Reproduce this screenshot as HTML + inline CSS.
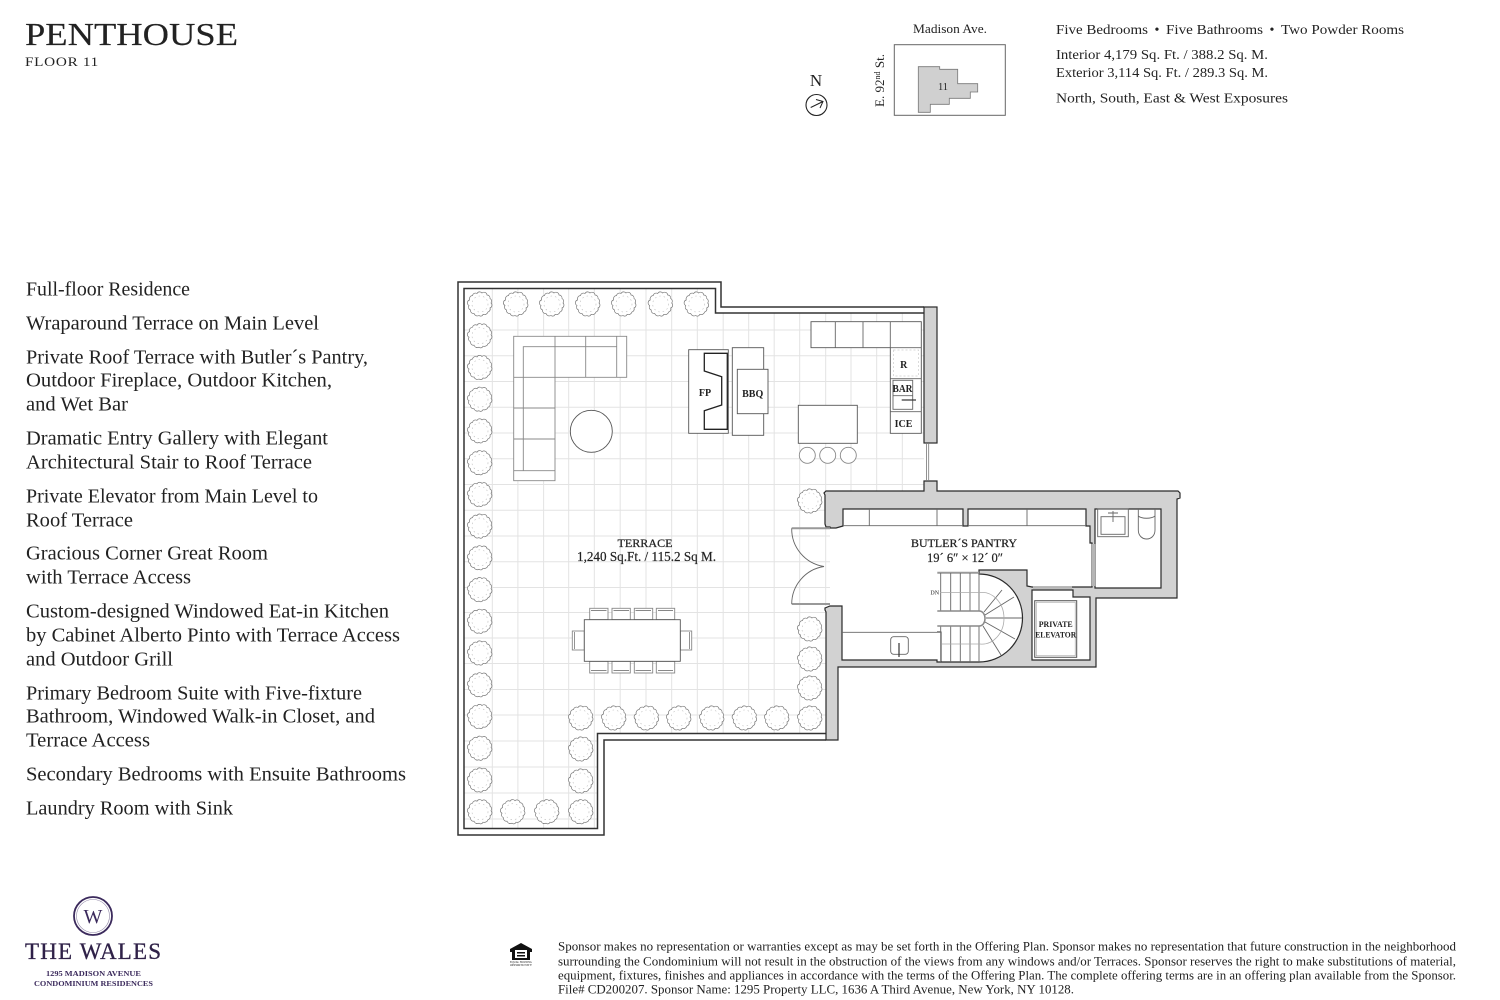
<!DOCTYPE html>
<html lang="en">
<head>
<meta charset="utf-8">
<title>Penthouse Floor 11</title>
<style>
html,body{margin:0;padding:0;background:#fff;width:1500px;height:1000px;overflow:hidden}
svg{display:block}
text{font-family:"Liberation Serif",serif;fill:#222}
.l{font-size:19.5px}
.g line{stroke:#e3e3e3;stroke-width:1}
.f{fill:none;stroke:#666;stroke-width:.9}
.w{fill:#fff;stroke:#555;stroke-width:.9}
.s{fill:#fff;stroke:#888;stroke-width:.9}
.sf{fill:none;stroke:#888;stroke-width:.9}
.t{font-size:10px;font-weight:bold;text-anchor:middle}
.d{font-size:12.5px}
.plan{filter:blur(.35px)}
</style>
</head>
<body>
<svg xmlns="http://www.w3.org/2000/svg" width="1500" height="1000" viewBox="0 0 1500 1000">
<defs>
<g id="p">
<path d="M11-1A3 3 0 0 1 10 4A3 3 0 0 1 8 8A4 4 0 0 1 3 10.5A2.5 2.5 0 0 1-1 11.5A3.5 3.5 0 0 1-6 9.5A3 3 0 0 1-9.5 6A3 3 0 0 1-11 1.5A3 3 0 0 1-10.5-4A3.5 3.5 0 0 1-7.5-8.5A3 3 0 0 1-3-10.5A3 3 0 0 1 2-11A3 3 0 0 1 7-9A3 3 0 0 1 10-5.5A3 3 0 0 1 11-1Z" fill="#fff" stroke="#777" stroke-width=".7"/>
<circle r="8" fill="none" stroke="#bbb" stroke-width=".6" stroke-dasharray="1.5 3"/>
</g>
</defs>

<!-- header -->
<text x="25" y="45" font-size="32" textLength="213" lengthAdjust="spacingAndGlyphs" stroke="#222" stroke-width=".15">PENTHOUSE</text>
<text x="25" y="66" font-size="13" textLength="74" lengthAdjust="spacingAndGlyphs" letter-spacing=".6">FLOOR 11</text>
<text x="913" y="33" font-size="13" textLength="74" lengthAdjust="spacingAndGlyphs">Madison Ave.</text>
<text x="1056" y="34" font-size="14" textLength="92" lengthAdjust="spacingAndGlyphs">Five Bedrooms</text>
<text x="1157" y="34" font-size="14" text-anchor="middle">•</text>
<text x="1166" y="34" font-size="14" textLength="97" lengthAdjust="spacingAndGlyphs">Five Bathrooms</text>
<text x="1272" y="34" font-size="14" text-anchor="middle">•</text>
<text x="1281" y="34" font-size="14" textLength="123" lengthAdjust="spacingAndGlyphs">Two Powder Rooms</text>
<text x="1056" y="59" font-size="14" textLength="212" lengthAdjust="spacingAndGlyphs">Interior 4,179 Sq. Ft. / 388.2 Sq. M.</text>
<text x="1056" y="77" font-size="14" textLength="212" lengthAdjust="spacingAndGlyphs">Exterior 3,114 Sq. Ft. / 289.3 Sq. M.</text>
<text x="1056" y="102.7" font-size="14" textLength="232" lengthAdjust="spacingAndGlyphs">North, South, East &amp; West Exposures</text>

<!-- key map -->
<text x="816" y="86" font-size="17" text-anchor="middle">N</text>
<circle cx="816.5" cy="105" r="10.5" fill="none" stroke="#222" stroke-width="1.1"/>
<path d="M810.7 107.5L823 101.5M816 99.5L823 101.5L820 108" fill="none" stroke="#222" stroke-width="1"/>
<text transform="translate(884 107) rotate(-90)" font-size="13" textLength="53" lengthAdjust="spacingAndGlyphs">E. 92<tspan font-size="8" dy="-4">nd</tspan><tspan dy="4"> St.</tspan></text>
<rect x="894.3" y="44.7" width="111" height="70.6" fill="none" stroke="#666" stroke-width="1"/>
<path d="M918.3 66.7H939.7V69.3H957.7V83.7H977.7V92H970.3V98.3H949.3V104.3H930.3V112.3H918.3Z" fill="#d0d0d0" stroke="#777" stroke-width=".8"/>
<text x="943" y="90" font-size="10.5" text-anchor="middle">11</text>

<!-- list -->
<g class="l" transform="translate(0 .7)">
<text x="26" y="295" textLength="164" lengthAdjust="spacingAndGlyphs">Full-floor Residence</text>
<text x="26" y="329" textLength="293" lengthAdjust="spacingAndGlyphs">Wraparound Terrace on Main Level</text>
<text x="26" y="363" textLength="342" lengthAdjust="spacingAndGlyphs">Private Roof Terrace with Butler´s Pantry,</text>
<text x="26" y="386" textLength="306" lengthAdjust="spacingAndGlyphs">Outdoor Fireplace, Outdoor Kitchen,</text>
<text x="26" y="410" textLength="102" lengthAdjust="spacingAndGlyphs">and Wet Bar</text>
<text x="26" y="444" textLength="302" lengthAdjust="spacingAndGlyphs">Dramatic Entry Gallery with Elegant</text>
<text x="26" y="468" textLength="286" lengthAdjust="spacingAndGlyphs">Architectural Stair to Roof Terrace</text>
<text x="26" y="502" textLength="292" lengthAdjust="spacingAndGlyphs">Private Elevator from Main Level to</text>
<text x="26" y="526" textLength="107" lengthAdjust="spacingAndGlyphs">Roof Terrace</text>
<text x="26" y="559" textLength="242" lengthAdjust="spacingAndGlyphs">Gracious Corner Great Room</text>
<text x="26" y="583" textLength="165" lengthAdjust="spacingAndGlyphs">with Terrace Access</text>
<text x="26" y="617" textLength="363" lengthAdjust="spacingAndGlyphs">Custom-designed Windowed Eat-in Kitchen</text>
<text x="26" y="641" textLength="374" lengthAdjust="spacingAndGlyphs">by Cabinet Alberto Pinto with Terrace Access</text>
<text x="26" y="665" textLength="147" lengthAdjust="spacingAndGlyphs">and Outdoor Grill</text>
<text x="26" y="699" textLength="336" lengthAdjust="spacingAndGlyphs">Primary Bedroom Suite with Five-fixture</text>
<text x="26" y="722" textLength="349" lengthAdjust="spacingAndGlyphs">Bathroom, Windowed Walk-in Closet, and</text>
<text x="26" y="746" textLength="124" lengthAdjust="spacingAndGlyphs">Terrace Access</text>
<text x="26" y="780" textLength="380" lengthAdjust="spacingAndGlyphs">Secondary Bedrooms with Ensuite Bathrooms</text>
<text x="26" y="814" textLength="207" lengthAdjust="spacingAndGlyphs">Laundry Room with Sink</text>
</g>

<g class="plan">
<!-- grid -->
<g class="g">
<line x1="492.3" y1="289" x2="492.3" y2="828"/>
<line x1="517.9" y1="289" x2="517.9" y2="828"/>
<line x1="543.6" y1="289" x2="543.6" y2="828"/>
<line x1="568.7" y1="289" x2="568.7" y2="828"/>
<line x1="594.3" y1="289" x2="594.3" y2="828"/>
<line x1="620.2" y1="289" x2="620.2" y2="733"/>
<line x1="646" y1="289" x2="646" y2="733"/>
<line x1="671.7" y1="289" x2="671.7" y2="733"/>
<line x1="697.3" y1="289" x2="697.3" y2="733"/>
<line x1="723.2" y1="313" x2="723.2" y2="733"/>
<line x1="748.7" y1="313" x2="748.7" y2="733"/>
<line x1="774.2" y1="313" x2="774.2" y2="733"/>
<line x1="799.7" y1="313" x2="799.7" y2="733"/>
<line x1="825.7" y1="313" x2="825.7" y2="491"/>
<line x1="825.7" y1="527" x2="825.7" y2="606"/>
<line x1="851" y1="313" x2="851" y2="491"/>
<line x1="876.7" y1="313" x2="876.7" y2="491"/>
<line x1="902.3" y1="313" x2="902.3" y2="491"/>
<line x1="464" y1="330" x2="924" y2="330"/>
<line x1="464" y1="355.7" x2="924" y2="355.7"/>
<line x1="464" y1="381.5" x2="924" y2="381.5"/>
<line x1="464" y1="407.2" x2="924" y2="407.2"/>
<line x1="464" y1="433" x2="924" y2="433"/>
<line x1="464" y1="458.7" x2="924" y2="458.7"/>
<line x1="464" y1="484.5" x2="924" y2="484.5"/>
<line x1="464" y1="510.2" x2="826" y2="510.2"/>
<line x1="464" y1="536" x2="830" y2="536"/>
<line x1="464" y1="561.7" x2="830" y2="561.7"/>
<line x1="464" y1="587.5" x2="830" y2="587.5"/>
<line x1="464" y1="612.5" x2="826" y2="612.5"/>
<line x1="464" y1="638" x2="826" y2="638"/>
<line x1="464" y1="663.5" x2="826" y2="663.5"/>
<line x1="464" y1="689.5" x2="826" y2="689.5"/>
<line x1="464" y1="715" x2="826" y2="715"/>
<line x1="464" y1="741" x2="597" y2="741"/>
<line x1="464" y1="767" x2="597" y2="767"/>
<line x1="464" y1="793" x2="597" y2="793"/>
<line x1="464" y1="819" x2="597" y2="819"/>
</g>

<!-- terrace walls -->
<path d="M924 307H721V282H458V835H604V740H826" fill="none" stroke="#333" stroke-width="1.5"/>
<path d="M924 313H715.5V288.5H464V828.5H597.5V733.5H826" fill="none" stroke="#333" stroke-width="1.5"/>

<!-- plants -->
<g>
<use href="#p" x="480" y="304"/><use href="#p" x="516" y="304"/><use href="#p" x="552" y="304"/><use href="#p" x="588" y="304"/><use href="#p" x="624" y="304"/><use href="#p" x="660.7" y="304"/><use href="#p" x="696.7" y="304"/>
<use href="#p" x="480" y="335.7"/><use href="#p" x="480" y="367.5"/><use href="#p" x="480" y="399.2"/><use href="#p" x="480" y="430.9"/><use href="#p" x="480" y="462.7"/><use href="#p" x="480" y="494.4"/><use href="#p" x="480" y="526.1"/><use href="#p" x="480" y="557.8"/><use href="#p" x="480" y="589.6"/><use href="#p" x="480" y="621.3"/><use href="#p" x="480" y="653"/><use href="#p" x="480" y="684.8"/><use href="#p" x="480" y="716.5"/><use href="#p" x="480" y="748.2"/><use href="#p" x="480" y="780"/><use href="#p" x="480" y="811.7"/>
<use href="#p" x="513" y="811.7"/><use href="#p" x="547" y="811.7"/><use href="#p" x="581" y="811.7"/>
<use href="#p" x="581" y="781"/><use href="#p" x="581" y="749"/><use href="#p" x="581" y="718"/>
<use href="#p" x="614" y="718"/><use href="#p" x="646.7" y="718"/><use href="#p" x="679" y="718"/><use href="#p" x="712" y="718"/><use href="#p" x="744.7" y="718"/><use href="#p" x="777" y="718"/><use href="#p" x="810" y="718"/>
<use href="#p" x="810" y="688"/><use href="#p" x="810" y="659"/><use href="#p" x="810" y="629"/><use href="#p" x="810" y="501"/>
</g>

<!-- sofa -->
<path class="s" d="M513.7 336.3H626.7V377.3H555V480.7H513.7Z"/>
<path class="sf" d="M523.3 470.7V346.7H616.7M616.7 336.3V377.3M585.7 336.3V377.3M555 336.3V377.3M513.7 377.3H555M513.7 408H555M513.7 439H555M513.7 470.7H555"/>
<circle cx="591.3" cy="431.3" r="21" class="w"/>

<!-- dining -->
<g>
<rect x="589.7" y="608.3" width="18.3" height="11.4" class="s"/><rect x="612" y="608.3" width="18.3" height="11.4" class="s"/><rect x="634.3" y="608.3" width="18.4" height="11.4" class="s"/><rect x="656.3" y="608.3" width="18.4" height="11.4" class="s"/>
<rect x="589.7" y="661.3" width="18.3" height="11.7" class="s"/><rect x="612" y="661.3" width="18.3" height="11.7" class="s"/><rect x="634.3" y="661.3" width="18.4" height="11.7" class="s"/><rect x="656.3" y="661.3" width="18.4" height="11.7" class="s"/>
<rect x="572.3" y="631" width="12" height="19" class="s"/><rect x="680.3" y="631" width="11.4" height="19" class="s"/>
<path class="sf" d="M591 610.5H606.5M613.5 610.5H629M635.5 610.5H651M658 610.5H673M591 670.5H606.5M613.5 670.5H629M635.5 670.5H651M658 670.5H673M574.5 632V649M689.5 632V649"/>
<rect x="584.3" y="619.7" width="96" height="41.6" class="w"/>
</g>

<!-- FP / BBQ -->
<rect x="688.7" y="349.7" width="39.6" height="83.6" class="w"/>
<path d="M727.3 353.3H704.3V371L721.7 376.7V405L704.3 410.7V429.3H727.3Z" fill="none" stroke="#222" stroke-width="1.3"/>
<rect x="732.3" y="347.7" width="31.4" height="87.6" class="w"/>
<rect x="737.3" y="369.3" width="30.7" height="44.4" class="w"/>
<text class="t" x="705" y="396">FP</text>
<text class="t" x="752.7" y="397">BBQ</text>

<!-- outdoor kitchen -->
<rect x="798.3" y="405.3" width="59" height="38" class="w"/>
<circle cx="807.3" cy="455.3" r="8" class="s"/><circle cx="827.7" cy="455.3" r="8" class="s"/><circle cx="848.3" cy="455.3" r="8" class="s"/>
<path class="w" d="M811 321.7H921.3V433.3H890.3V347.7H811Z"/>
<path class="f" d="M835.3 321.7V347.7M863 321.7V347.7M890.3 321.7V347.7M890.3 347.7H921.3M890.3 378.7H921.3M890.3 411.7H921.3"/>
<rect x="893" y="380.3" width="19.7" height="29" class="f"/>
<path class="f" d="M893 395.7H912.7"/>
<path d="M901.7 400H916" stroke="#333" stroke-width="1.2"/>
<rect x="893.5" y="350" width="25" height="26" fill="none" stroke="#ccc" stroke-width=".7" stroke-dasharray="2 2"/>
<text class="t" x="903.7" y="368">R</text>
<text class="t" x="902.5" y="392" textLength="20" lengthAdjust="spacingAndGlyphs">BAR</text>
<text class="t" x="903.5" y="427">ICE</text>

<!-- pantry walls -->
<path fill-rule="evenodd" fill="#d2d2d2" stroke="#2a2a2a" stroke-width="1.2" d="M830 527H826L825 524V495L824 493L826 491H924V481H937V491H1178L1180 493V498L1177 499V598H1096V667H838V740H826V612L825 610V608L830 606H842V660H937V662H941H979A43.5 44 0 0 0 979 574V570H1027V586L1032 587H1092V543H1090V526H1086V509H968V526H963V509H843V526L836 528H830ZM1095 509H1161V588H1095ZM1032 590H1073V597H1090V660H1032Z"/>
<path d="M1033 587.5H1072" stroke="#b5b5b5" stroke-width="2.5"/>
<path d="M1093.5 544V586" stroke="#b5b5b5" stroke-width="3.5"/>
<rect x="924" y="307" width="13" height="136" fill="#d2d2d2" stroke="#2a2a2a" stroke-width="1.2"/>
<path d="M926.5 443V481M928.7 443V481" stroke="#777" stroke-width=".8"/>

<!-- pantry counters -->
<path class="f" d="M843 525.7H963M968 525.7H1086M869.3 509V525.7M937 509V525.7M1027 509V525.7"/>
<path class="f" d="M842 632.3H937"/>
<path d="M937 632H941V662" fill="none" stroke="#222" stroke-width="1"/>
<rect x="890.7" y="636.7" width="17.6" height="17.6" rx="3" class="f"/>
<path d="M899 643V657" stroke="#333" stroke-width="1.2"/>

<!-- doors -->
<path d="M791.7 528.3H830M791.7 604H830" stroke="#999" stroke-width="2"/>
<path class="f" d="M791.7 528.3A38 38 0 0 0 824 566.5A38 38 0 0 0 791.7 604"/>

<!-- stair -->
<path d="M937.3 572.7H979" stroke="#999" stroke-width="2"/>
<path class="f" d="M940.7 573V611M950.7 573V611M960.3 573V611M970 573V611M979 573V611M940.7 626V662M950.7 626V662M960.3 626V662M970 626V662M979 626V662"/>
<path d="M937.3 611H979C987 611 987 626 979 626H937.3" fill="#fff" stroke="#888" stroke-width="1.5"/>
<path class="f" d="M984 612L1002 590M985 615L1014 597M986 618H1022M985 622L1015 639M983 626L1001 655"/>
<path d="M940 592.5H980A22 26 0 0 1 1004 618A22 26 0 0 1 980 644H942" fill="none" stroke="#aaa" stroke-width=".8"/>
<text x="934.7" y="594.5" font-size="6" text-anchor="middle">DN</text>

<!-- elevator -->
<rect x="1034.7" y="600.7" width="42" height="56.6" fill="#fff" stroke="#555" stroke-width="1"/>
<rect x="1036.2" y="602.2" width="39" height="53.6" fill="none" stroke="#999" stroke-width=".6"/>
<text x="1055.7" y="627" font-size="8.5" font-weight="bold" text-anchor="middle" textLength="34" lengthAdjust="spacingAndGlyphs">PRIVATE</text>
<text x="1055.7" y="637.5" font-size="8.5" font-weight="bold" text-anchor="middle" textLength="41" lengthAdjust="spacingAndGlyphs">ELEVATOR</text>

<!-- bath -->
<rect x="1097.7" y="509" width="30.6" height="27.7" class="f"/>
<rect x="1101" y="516.7" width="24" height="17.6" class="f"/>
<path class="f" d="M1108 513H1118M1113 511V522"/>
<path class="f" d="M1138.3 509V530C1138.3 542 1155 542 1155 530V509M1138.3 516C1142 519 1151 519 1155 516"/>

<!-- labels -->
<text x="645" y="547" font-size="11.5" text-anchor="middle" textLength="55" lengthAdjust="spacingAndGlyphs" stroke="#222" stroke-width=".25">TERRACE</text>
<text x="646.5" y="561" font-size="13.5" text-anchor="middle" textLength="139" lengthAdjust="spacingAndGlyphs" stroke="#222" stroke-width=".2">1,240 Sq.Ft. / 115.2 Sq M.</text>
<text x="964" y="547" font-size="11.5" text-anchor="middle" textLength="106" lengthAdjust="spacingAndGlyphs" stroke="#222" stroke-width=".25">BUTLER´S PANTRY</text>
<text x="965" y="562" font-size="13" text-anchor="middle" textLength="76" lengthAdjust="spacingAndGlyphs" stroke="#222" stroke-width=".2">19´ 6″ × 12´ 0″</text>
</g>

<!-- logo -->
<circle cx="93" cy="916" r="19" fill="none" stroke="#3b2a5c" stroke-width="1.8"/>
<circle cx="93" cy="916" r="16.5" fill="none" stroke="#8f85a5" stroke-width=".6"/>
<text x="93" y="923" font-size="20" text-anchor="middle" style="fill:#3b2a5c">W</text>
<text x="25" y="959" font-size="23" textLength="136" lengthAdjust="spacing" style="fill:#2f2148;stroke:#2f2148;stroke-width:.3">THE WALES</text>
<text x="46" y="976" font-size="7.5" font-weight="bold" textLength="95" lengthAdjust="spacingAndGlyphs" style="fill:#3b2a5c">1295 MADISON AVENUE</text>
<text x="34" y="986" font-size="7.5" font-weight="bold" textLength="119" lengthAdjust="spacingAndGlyphs" style="fill:#3b2a5c">CONDOMINIUM RESIDENCES</text>

<!-- equal housing -->
<path d="M521 943L510 949V952H512V960H530V952H532V949Z" fill="#111"/>
<rect x="515" y="950" width="12" height="8" fill="#fff"/>
<rect x="517" y="952" width="8" height="1.5" fill="#111"/><rect x="517" y="955" width="8" height="1.5" fill="#111"/>
<text x="521" y="963" font-size="3" text-anchor="middle" textLength="22" lengthAdjust="spacingAndGlyphs">EQUAL HOUSING</text>
<text x="521" y="966" font-size="3" text-anchor="middle" textLength="22" lengthAdjust="spacingAndGlyphs">OPPORTUNITY</text>

<!-- footer -->
<g class="d" transform="translate(0 .7)">
<text x="558" y="950" textLength="898" lengthAdjust="spacingAndGlyphs">Sponsor makes no representation or warranties except as may be set forth in the Offering Plan. Sponsor makes no representation that future construction in the neighborhood</text>
<text x="558" y="965" textLength="898" lengthAdjust="spacingAndGlyphs">surrounding the Condominium will not result in the obstruction of the views from any windows and/or Terraces. Sponsor reserves the right to make substitutions of material,</text>
<text x="558" y="979" textLength="898" lengthAdjust="spacingAndGlyphs">equipment, fixtures, finishes and appliances in accordance with the terms of the Offering Plan. The complete offering terms are in an offering plan available from the Sponsor.</text>
<text x="558" y="993" textLength="516" lengthAdjust="spacingAndGlyphs">File# CD200207. Sponsor Name: 1295 Property LLC, 1636 A Third Avenue, New York, NY 10128.</text>
</g>
</svg>
</body>
</html>
